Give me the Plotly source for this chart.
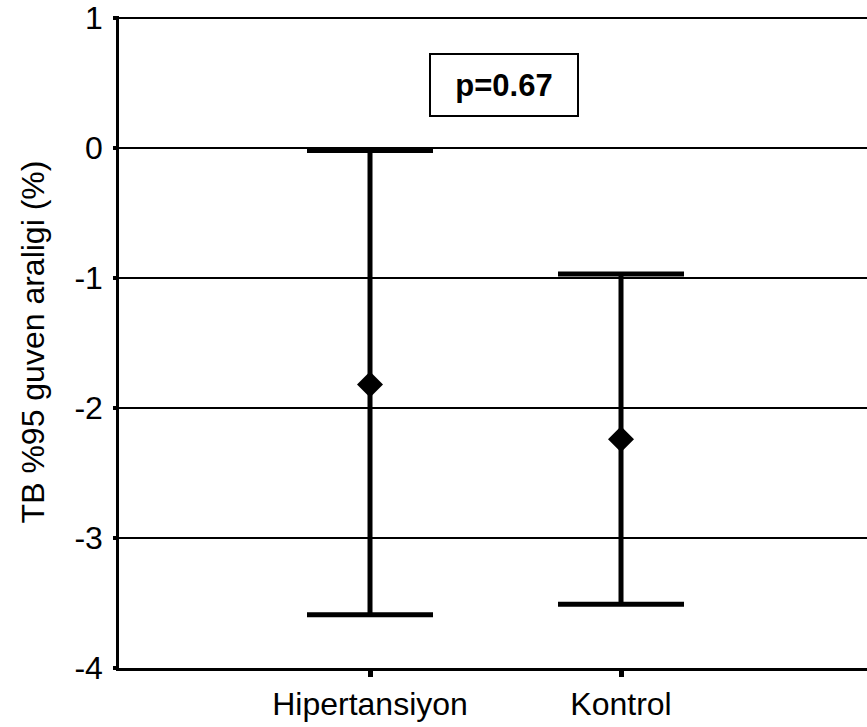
import plotly.graph_objects as go

categories = ["Hipertansiyon", "Kontrol"]
means = [-1.82, -2.24]
upper = [-0.02, -0.97]
lower = [-3.59, -3.51]
y_ticks = [1, 0, -1, -2, -3, -4]
y_tick_labels = ["1", "0", "-1", "-2", "-3", "-4"]
p_text = "p=0.67"

x_pos = [1, 2]
err_plus = [u - m for u, m in zip(upper, means)]
err_minus = [m - l for m, l in zip(means, lower)]

FONT = "Liberation Sans, Arial, sans-serif"

fig = go.Figure()
fig.add_trace(go.Scatter(
    x=x_pos, y=means, mode="markers",
    marker=dict(symbol="diamond", size=20, color="black"),
    error_y=dict(type="data", symmetric=False, array=err_plus, arrayminus=err_minus,
                 color="black", thickness=5, width=63),
    showlegend=False,
))

fig.add_annotation(
    x=1.534, y=0.483, xref="x", yref="y", text="<b>" + p_text + "</b>",
    showarrow=False, font=dict(family=FONT, size=31, color="black"),
    bordercolor="black", borderwidth=2, borderpad=0, width=146, height=60,
    bgcolor="white",
)

fig.update_layout(
    width=867, height=727,
    margin=dict(l=119, r=0, t=16, b=59, autoexpand=False),
    plot_bgcolor="white", paper_bgcolor="white",
    font=dict(family=FONT, size=32, color="black"),
    xaxis=dict(
        range=[0, 2.98], tickmode="array", tickvals=x_pos, ticktext=categories,
        showgrid=False, zeroline=False, showline=True, linecolor="black", linewidth=2.5,
        ticks="outside", ticklen=6, tickwidth=5, tickcolor="black",
        tickfont=dict(family=FONT, size=32), automargin=False,
    ),
    yaxis=dict(
        range=[-4, 1.015], tickmode="array", tickvals=y_ticks, ticktext=y_tick_labels,
        showgrid=True, gridcolor="black", gridwidth=2, zeroline=False,
        showline=True, linecolor="black", linewidth=2.5,
        ticks="outside", ticklen=3, tickwidth=4, tickcolor="black",
        ticklabelstandoff=4,
        tickfont=dict(family=FONT, size=32), automargin=False,
        title=dict(text="TB %95 guven araligi (%)", font=dict(family=FONT, size=32), standoff=21),
    ),
)

fig.write_html(
    "out.html",
    config={"displayModeBar": False},
    post_script="document.body.style.margin='0';document.body.style.overflow='hidden';",
)
